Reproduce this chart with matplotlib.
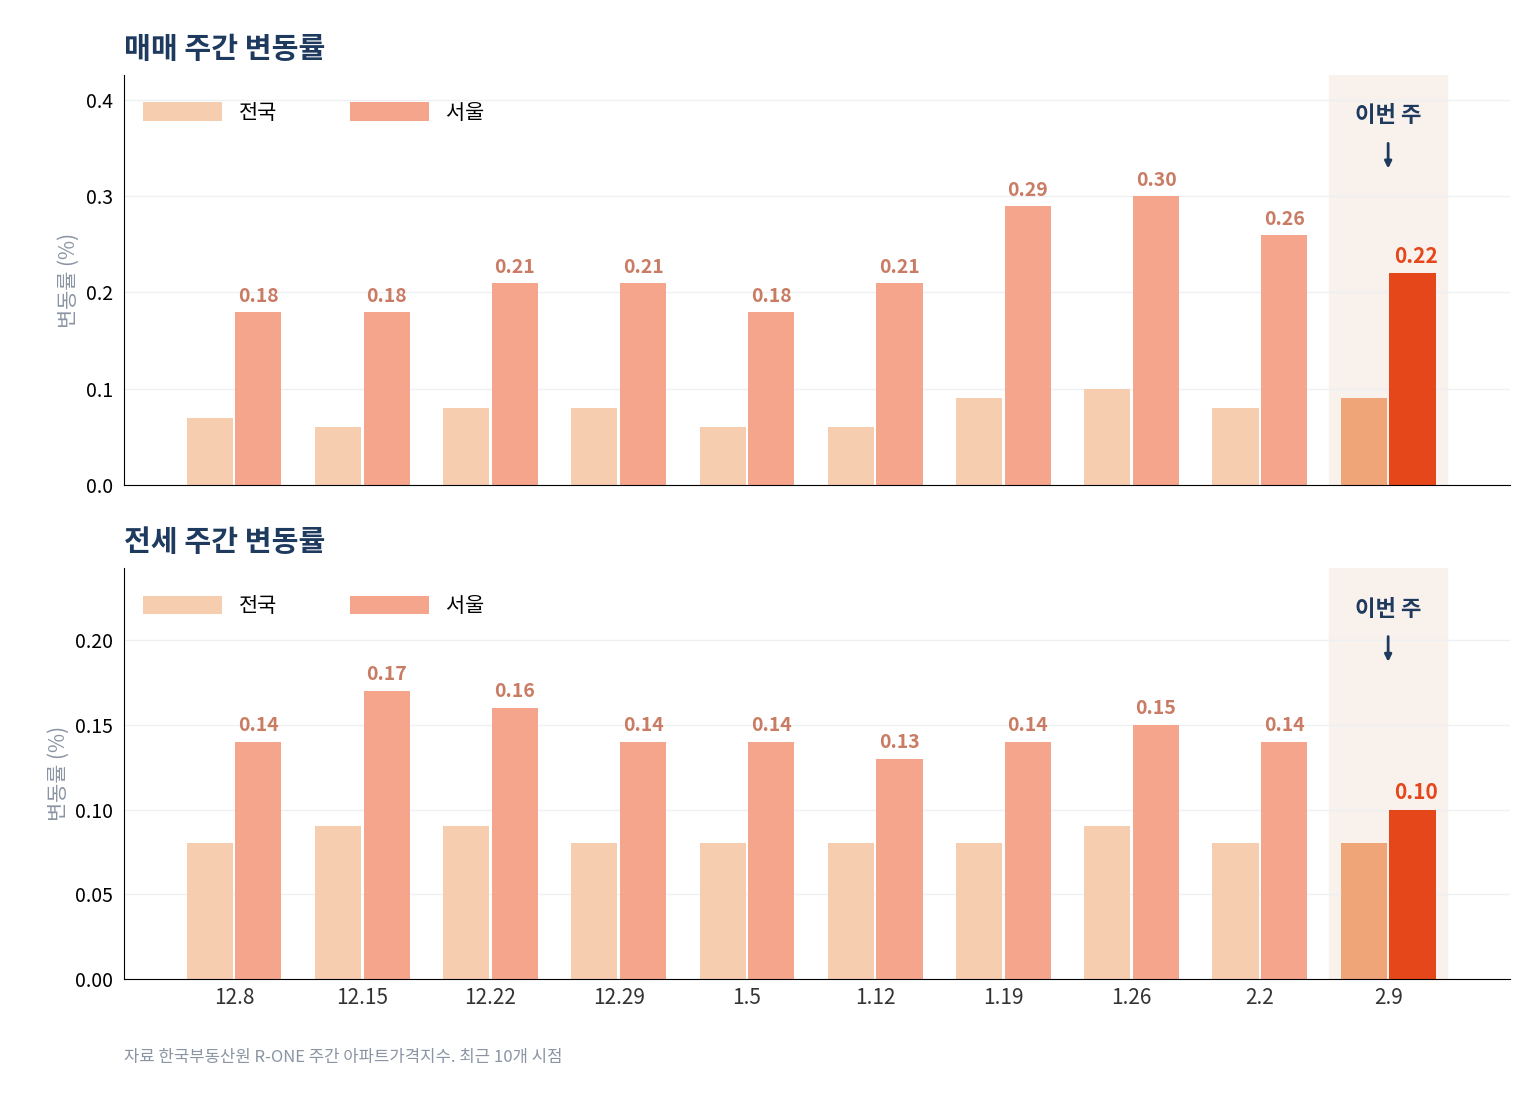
import numpy as np
import matplotlib
matplotlib.use('Agg')
import matplotlib.pyplot as plt
plt.rcParams['font.family'] = ['Noto Sans CJK KR', 'DejaVu Sans']

weeks = ['12.8', '12.15', '12.22', '12.29', '1.5', '1.12', '1.19', '1.26', '2.2', '2.9']
sale_nat = [0.07, 0.06, 0.08, 0.08, 0.06, 0.06, 0.09, 0.10, 0.08, 0.09]
sale_seoul = [0.18, 0.18, 0.21, 0.21, 0.18, 0.21, 0.29, 0.30, 0.26, 0.22]
rent_nat = [0.08, 0.09, 0.09, 0.08, 0.08, 0.08, 0.08, 0.09, 0.08, 0.08]
rent_seoul = [0.14, 0.17, 0.16, 0.14, 0.14, 0.13, 0.14, 0.15, 0.14, 0.10]

navy = '#1F3A5F'
fig = plt.figure(figsize=(15.4, 11.04), dpi=100)
ax1 = fig.add_axes([0.0805, 0.5607, 0.9, 0.3714])
ax2 = fig.add_axes([0.0805, 0.1132, 0.9, 0.3723])

def draw(ax, nat, seoul, ymax, ticks, fmt, title, off):
    x = np.arange(len(weeks))
    n = len(weeks)
    ax.axvspan(n - 1 - 0.46, n - 1 + 0.46, color='#F9F1EB', zorder=0)
    cn = ['#F6CDAE'] * (n - 1) + ['#EFA577']
    cs = ['#F4A58C'] * (n - 1) + ['#E5461A']
    ax.bar(x - 0.19, nat, 0.36, color=cn, zorder=2)
    ax.bar(x + 0.19, seoul, 0.36, color=cs, zorder=2)
    for i, v in enumerate(seoul):
        last = i == n - 1
        ax.text(x[i] + 0.19 + (0.03 if last else 0), v + off, f'{v:.2f}', ha='center', va='bottom',
                fontsize=15 if last else 14, fontweight='bold',
                color='#E5461A' if last else '#C97B63')
    ax.set_xlim(-0.858, 9.95)
    ax.set_ylim(0, ymax)
    ax.set_yticks(ticks)
    ax.set_yticklabels([fmt.format(t) for t in ticks], fontsize=14)
    ax.grid(axis='y', color='#EEF0F3', lw=1, zorder=1)
    ax.set_axisbelow(True)
    for s in ['top', 'right']:
        ax.spines[s].set_visible(False)
    ax.tick_params(axis='y', length=0, pad=8)
    ax.set_ylabel('변동률 (%)', color='#8A94A3', fontsize=15)
    ax.set_title(title, loc='left', fontsize=21, fontweight='bold', color=navy, pad=12)
    ax.bar([0], [0], color='#F6CDAE', label='전국')
    ax.bar([0], [0], color='#F4A58C', label='서울')
    ax.legend(loc='upper left', frameon=False, ncol=2, fontsize=15, handlelength=3.8,
              handleheight=1.0, columnspacing=3.5, bbox_to_anchor=(0.0, 0.98))
    ax.annotate('', xy=(n - 1, ymax * 0.765), xytext=(n - 1, ymax * 0.84),
                arrowprops=dict(arrowstyle='-|>', color=navy, lw=2))
    ax.text(n - 1, ymax * 0.9, '이번 주', ha='center', va='center', fontsize=16,
            fontweight='bold', color=navy)
    ax.set_xticks(np.arange(len(weeks)))

draw(ax1, sale_nat, sale_seoul, 0.426, [0.0, 0.1, 0.2, 0.3, 0.4], '{:.1f}', '매매 주간 변동률', 0.006)
draw(ax2, rent_nat, rent_seoul, 0.2425, [0.0, 0.05, 0.10, 0.15, 0.20], '{:.2f}', '전세 주간 변동률', 0.004)
ax1.set_xticklabels([])
ax1.tick_params(axis='x', length=0)
ax2.set_xticklabels(weeks, fontsize=15, color='#333333')
ax2.tick_params(axis='x', length=0, pad=6)

fig.text(0.0805, 0.038, '자료 한국부동산원 R-ONE 주간 아파트가격지수. 최근 10개 시점', fontsize=12, color='#8A94A3')
fig.savefig('out.png', dpi=100)
